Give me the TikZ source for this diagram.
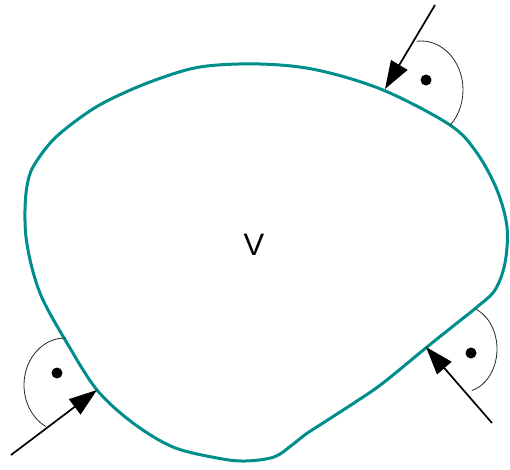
\documentclass[tikz,border=0pt]{standalone}
\usepackage{fontspec}
\setmainfont{Liberation Sans}
\usetikzlibrary{arrows.meta}
\definecolor{bodyteal}{RGB}{0,142,140}

\tikzset{
  boundary/.style={line width=3pt,bodyteal},
  force/.style={line width=1.7pt,-{Triangle[length=28pt,width=19pt]}},
  rightarc/.style={line width=0.8pt,black!85},
  rightdot/.style={circle,fill,inner sep=0pt,minimum size=11pt}
}

\begin{document}
\begin{tikzpicture}[x=1pt,y=-1pt]
        \useasboundingbox (0,0) rectangle (510,469);
        % the body
        \draw[boundary] plot[smooth cycle,tension=0.55] coordinates {
          (200,67) (260,64) (317,70) (383,90) (450,125) (477,153) (497,190)
          (507,227) (505,263) (495,290) (477,307) (457,323) (427,347)
          (383,383) (357,401) (323,423) (306,434) (292,445)
          (274,457) (245,461) (217,458)
          (173,447) (133,423) (97,390) (67,343) (43,300) (32,268) (26,237)
          (25,210) (27,186) (33,167) (52,141) (77,120) (105,102) (150,82)};
        \node (vol) at (254,245) {\fontsize{31}{36}\selectfont V};
        % tails and tips of the forces
        \coordinate (tailA) at (435,5);   \coordinate (tipA) at (385,89);
        \coordinate (tailB) at (11,455);  \coordinate (tipB) at (97,390);
        \coordinate (tailC) at (492,423); \coordinate (tipC) at (426,347);
        \draw[force] (tailA) -- (tipA);
        \draw[force] (tailB) -- (tipB);
        \draw[force] (tailC) -- (tipC);
        % right angle marks
        \coordinate (ctrA) at (421,90);
        \coordinate (ctrB) at (65,385);
        \coordinate (ctrC) at (463,349);
        \draw[rightarc] ([shift={(-96:42 and 49)}]ctrA) arc[start angle=-96,end angle=46,x radius=42,y radius=49];
        \draw[rightarc] ([shift={(-88:41 and 47)}]ctrB) arc[start angle=-88,end angle=-242,x radius=41,y radius=47];
        \draw[rightarc] ([shift={(-67:34 and 43)}]ctrC) arc[start angle=-67,end angle=75,x radius=34,y radius=43];
        \node[rightdot] (dotA) at (426,80) {};
        \node[rightdot] (dotB) at (57,373) {};
        \node[rightdot] (dotC) at (471,353) {};
      \end{tikzpicture}
\end{document}
